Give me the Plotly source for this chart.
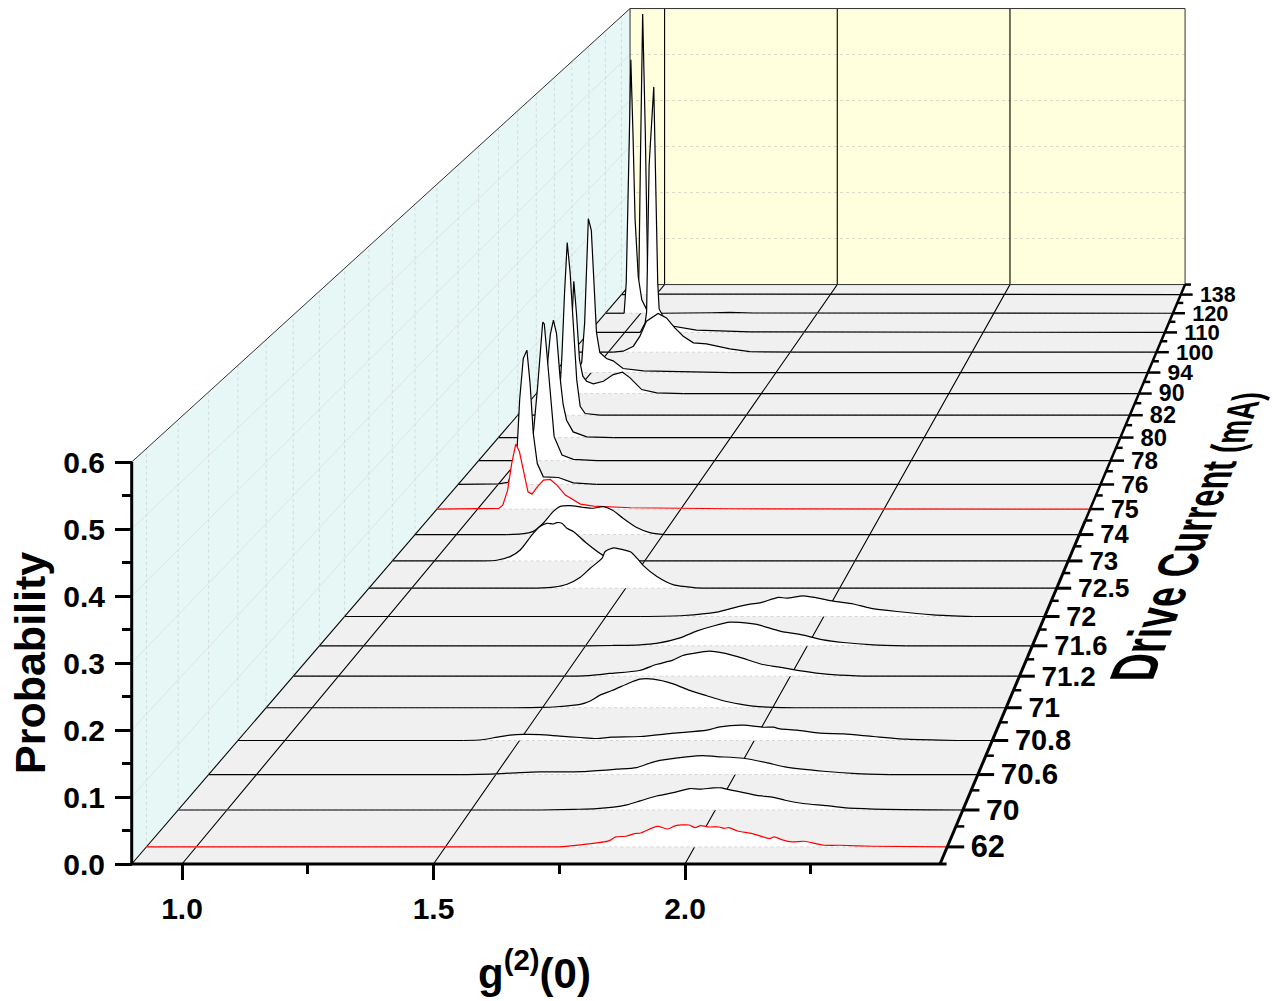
import plotly.graph_objects as go

W, H = 1273, 1001
FONT = "Liberation Sans"

currents = ["62","70","70.6","70.8","71","71.2","71.6","72","72.5","73","74","75","76","78","80","82","90","94","100","110","120","138"]

g_62 = [0.9,1.688,1.735,1.775,1.828,1.842,1.862,1.879,1.892,1.925,1.946,1.962,1.989,2.001,2.012,2.029,2.049,2.059,2.069,2.086,2.116,2.150,2.160,2.176,2.196,2.220,2.243,2.260,2.290,2.357,2.507]
p_62 = [0,0,.0005,.0035,.009,.015,.016,.020,.021,.031,.027,.032,.033,.029,.032,.030,.030,.028,.029,.024,.020,.0126,.015,.0106,.0075,.0085,.005,.0025,.0025,.001,0]
g_70 = [0.9,1.642,1.710,1.757,1.819,1.846,1.880,1.914,1.948,1.969,1.996,2.013,2.023,2.051,2.085,2.119,2.143,2.180,2.228,2.262,2.324,2.507]
p_70 = [0,0,.001,.002,.008,.014,.0215,.0266,.033,.032,.034,.034,.032,.028,.0225,.0195,.015,.010,.0067,.0036,.0015,0]
g_706 = [0.9,1.425,1.50,1.55,1.592,1.682,1.752,1.794,1.832,1.898,1.933,1.961,2.017,2.065,2.104,2.184,2.253,2.323,2.507]
p_706 = [0,0,.0012,.003,.0042,.0047,.0084,.011,.0204,.0277,.0298,.0282,.0256,.0188,.012,.0052,.0016,0,0]
g_708 = [0.9,1.38,1.42,1.453,1.48,1.507,1.5435,1.586,1.629,1.664,1.696,1.757,1.828,1.899,1.927,1.977,2.02,2.041,2.055,2.091,2.14,2.19,2.254,2.325,2.432,2.507]
p_708 = [0,0,.0012,.0055,.0085,.0098,.0095,.007,.0048,.0032,.0053,.0064,.0117,.0165,.0219,.0245,.0212,.0213,.0185,.0165,.0117,.0107,.0064,.0021,0,0]
g_71 = [0.9,1.436,1.495,1.531,1.582,1.605,1.625,1.651,1.69,1.712,1.741,1.784,1.82,1.857,1.893,1.929,1.958,2.002,2.05,2.507]
p_71 = [0,0,.0005,.0016,.0054,.0115,.0206,.028,.0408,.0467,.0467,.039,.0282,.0195,.0114,.006,.0027,.0005,0,0]
g_712 = [0.9,1.511,1.56,1.60,1.666,1.703,1.740,1.762,1.784,1.821,1.85,1.887,1.939,1.976,2.028,2.079,2.146,2.256,2.507]
p_712 = [0,0,.0015,.0045,.0094,.0194,.0266,.0343,.0377,.0416,.0388,.0316,.0194,.015,.0083,.0033,.0006,0,0]
g_716 = [0.9,1.50,1.56,1.623,1.660,1.713,1.750,1.792,1.825,1.848,1.886,1.938,1.991,2.036,2.081,2.148,2.223,2.507]
p_716 = [0,0,.0005,.0017,.004,.0135,.0248,.0344,.04,.0395,.0361,.0248,.018,.01,.0056,.0017,0,0]
g_72 = [0.9,1.5785,1.678,1.754,1.793,1.831,1.854,1.896,1.915,1.953,1.984,2.022,2.068,2.106,2.168,2.251,2.343,2.507]
p_72 = [0,0,.0017,.0075,.0149,.0212,.0235,.033,.0316,.0356,.0321,.0264,.0215,.0145,.0086,.0029,0,0]
g_725 = [0.9,1.293,1.332,1.363,1.394,1.417,1.445,1.452,1.472,1.495,1.511,1.530,1.542,1.573,1.612,1.659,1.690,2.507]
p_725 = [0,0,.0018,.007,.0193,.035,.0527,.0644,.0708,.0673,.0638,.0497,.0392,.0205,.0058,.0012,0,0]
g_73 = [0.9,1.117,1.148,1.18,1.204,1.232,1.251,1.267,1.283,1.291,1.303,1.315,1.331,1.362,1.402,1.434,2.507]
p_73 = [0,0,.0012,.0077,.0196,.0464,.0613,.0672,.066,.0684,.0672,.0583,.0523,.0315,.0095,0,0]
g_74 = [0.9,1.121,1.157,1.185,1.21,1.234,1.25,1.274,1.306,1.331,1.355,1.379,1.403,1.435,1.468,1.504,2.507]
p_74 = [0,0,.0012,.0054,.0206,.0417,.0508,.0526,.0496,.0478,.0508,.0436,.0296,.0133,.0036,0,0]
g_75 = [0.9,1.052,1.062,1.074,1.084,1.094,1.103,1.113,1.124,1.134,1.146,1.162,1.179,1.195,1.216,1.253,1.285,1.376,1.622,2.507]
p_75 = [0,.0012,.0074,.0351,.0844,.1201,.1059,.069,.032,.0277,.04,.0536,.0548,.0444,.0259,.0092,.0055,.0025,.0006,0]
g_76 = [0.9,1.0,1.025,1.038,1.048,1.054,1.063,1.072,1.08,1.088,1.098,1.113,1.151,1.188,1.246,2.507]
p_76 = [0,.0012,.004,.03,.0739,.16,.2366,.2523,.1897,.0958,.0394,.0144,.0131,.0031,0,0]
g_78 = [0.9,1.027,1.031,1.040,1.050,1.063,1.067,1.078,1.086,1.092,1.112,1.141,1.201,2.507]
p_78 = [0,0,.004,.0585,.1412,.2646,.2608,.1667,.0903,.0458,.0108,.0025,0,0]
g_80 = [0.9,1.011,1.020,1.026,1.034,1.042,1.05,1.059,1.067,1.076,1.093,1.128,1.197,2.507]
p_80 = [0,0,.02,.137,.2,.2277,.2018,.1177,.0647,.0336,.011,.0013,0,0]
g_82 = [0.9,1.007,1.016,1.023,1.03,1.0375,1.046,1.055,1.064,1.077,1.116,2.507]
p_82 = [0,0,.116,.241,.3403,.2825,.1813,.0696,.0177,.0033,0,0]
g_90 = [0.9,.979,.988,.994,1.0,1.007,1.015,1.024,1.034,1.052,1.079,1.105,1.13,1.15,1.181,1.221,1.292,2.507]
p_90 = [0,0,.02,.13,.2248,.1614,.0681,.0347,.0247,.0193,.0247,.038,.0427,.0314,.008,.0013,0,0]
g_94 = [0.9,.96,.974,.982,.992,1.0,1.005,1.014,1.023,1.041,1.059,1.086,1.141,1.267,1.375,2.507]
p_94 = [0,0,.0204,.102,.3128,.289,.2176,.0816,.0408,.0286,.0238,.0082,.0034,.0014,0,0]
g_100 = [0.9,1.014,1.041,1.069,1.087,1.105,1.137,1.16,1.183,1.206,1.234,1.27,1.334,1.389,1.518,2.507]
p_100 = [0,0,.0021,.0124,.033,.064,.0798,.0708,.0502,.033,.0193,.0172,.0069,.001,0,0]
g_110 = [0.9,1.043,1.057,1.061,1.068,1.081,1.087,1.092,1.096,1.12,1.2,1.35,2.507]
p_110 = [0,0,.02,.043,.349,.5143,.2796,.1058,.0492,.015,.005,.001,0]
g_120 = [0.9,.953,.959,.968,.972,.978,.984,.993,1.003,1.017,1.055,1.2,1.252,1.32,2.507]
p_120 = [0,0,.0648,.3843,.5389,.3843,.1998,.0776,.0287,.0074,0,.001,.002,.0005,0]
g_138 = [0.9,.945,.95,.955,.961,.9686,.975,.983,1.0,2.507]
p_138 = [0,0,.0377,.3117,.605,.3484,.06,.003,.001,0]

series_g = [g_62,g_70,g_706,g_708,g_71,g_712,g_716,g_72,g_725,g_73,g_74,g_75,g_76,g_78,g_80,g_82,g_90,g_94,g_100,g_110,g_120,g_138]
series_p = [p_62,p_70,p_706,p_708,p_71,p_712,p_716,p_72,p_725,p_73,p_74,p_75,p_76,p_78,p_80,p_82,p_90,p_94,p_100,p_110,p_120,p_138]
red_series = {"62", "75"}

x_ticks = [1.0, 1.5, 2.0]
x_minor = [1.25, 1.75, 2.25]
y_ticks = [0, .1, .2, .3, .4, .5, .6]
y_minor = [.05, .15, .25, .35, .45, .55]
G0, G1, P1 = 0.9, 2.507, 0.6

# perspective of the Origin 3D box: vanishing point, in front-plane data units
GV, PV, PERSP = 4.0616, 2.7597, 0.4564
N = len(currents)

def depth(i):
    return (i + 0.45) / N

def scale(z):
    return 1 / (1 + PERSP * z)

def proj(g, p, z):
    s = scale(z)
    return GV + s * (g - GV), PV + s * (p - PV)

def path(points):
    xs, ys = [], []
    for g, p, z in points:
        a, b = proj(g, p, z)
        xs.append(a); ys.append(b)
    return xs, ys

def segments(pairs):
    xs, ys = [], []
    for pts in pairs:
        a, b = path(pts)
        xs += a + [None]; ys += b + [None]
    return xs, ys

fig = go.Figure()

def line(xs, ys, color="black", width=1, dash="solid", shape="linear"):
    fig.add_trace(go.Scatter(x=xs, y=ys, mode="lines",
                             line=dict(color=color, width=width, dash=dash, shape=shape, **({"smoothing": 0.7} if shape == "spline" else {})),
                             hoverinfo="skip", showlegend=False))

def fill(xs, ys, color, shape="linear"):
    fig.add_trace(go.Scatter(x=xs, y=ys, mode="lines", line=dict(width=0, shape=shape, **({"smoothing": 0.7} if shape == "spline" else {})),
                             fill="toself", fillcolor=color, hoverinfo="skip", showlegend=False))

# walls and floor
fill(*path([(G0,0,0),(G0,P1,0),(G0,P1,1),(G0,0,1),(G0,0,0)]), "#E6F7F5")
fill(*path([(G0,0,1),(G0,P1,1),(G1,P1,1),(G1,0,1),(G0,0,1)]), "#FFFFDD")
fill(*path([(G0,0,0),(G0,0,1),(G1,0,1),(G1,0,0),(G0,0,0)]), "#F0F0F0")

# wall grids
line(*segments([[(G0,p,0),(G0,p,1)] for p in y_ticks[1:-1]]), "#DADFDF", 0.8)
line(*segments([[(G0,0,depth(i)),(G0,P1,depth(i))] for i in range(N)]), "#D2DADA", 1, "dot")
line(*segments([[(G0,p,1),(G1,p,1)] for p in y_ticks[1:-1]]), "#D8D8C4", 1, "dot")
# black grid on back wall and floor
line(*segments([[(g,0,0),(g,0,1),(g,P1,1)] for g in x_ticks]), "black", 1.1)
# box outline
line(*path([(G0,P1,0),(G0,P1,1),(G1,P1,1),(G1,0,1),(G0,0,1),(G0,P1,1)]), "#303030", 1)
line(*path([(G0,0,0),(G0,0,1)]), "black", 1.1)

# waterfall, back to front
for i in reversed(range(N)):
    z = depth(i)
    g, p = series_g[i], series_p[i]
    color = "#FF0000" if currents[i] in red_series else "black"
    nz = [k for k, v in enumerate(p) if v > 0]
    a, b = max(nz[0] - 1, 0), min(nz[-1] + 1, len(p) - 1)
    shape = "spline" if i <= 10 else "linear"
    mx, my = path([(g[k], p[k], z) for k in range(a, b + 1)])
    fill(mx, my, "white", shape)
    line(*path([(G0,0,z),(G1,0,z)]), "#D4D4D4", 1, "dot")
    if a > 0:
        line(*path([(G0,0,z),(g[a],0,z)]), color, 1.2)
    line(mx, my, color, 1.2, shape=shape)
    if b < len(p) - 1:
        line(*path([(g[b],0,z),(G1,0,z)]), color, 1.2)

# axis lines
line([G0 - 0.003, 2.52], [0, 0], "black", 3)
line([G0, G0], [0, P1], "black", 3)
line(*path([(G1,0,0),(G1,0,0.5)]), "black", 3)
line(*path([(G1,0,0.5),(G1,0,1)]), "black", 2.5)
# depth axis ticks
TICK = 0.034
line(*segments([[(G1,0,depth(i)),(G1+TICK,0,depth(i))] for i in range(N) if i < 11]), "black", 3)
line(*segments([[(G1,0,depth(i)),(G1+TICK,0,depth(i))] for i in range(N) if i >= 11]), "black", 2.5)
line(*segments([[(G1,0,k/N),(G1+TICK/2,0,k/N)] for k in range(1, N + 1)]), "black", 2.5)
# depth axis labels
lx, ly = path([(G1 + 0.047 + 0.008 * depth(i), -0.004, depth(i)) for i in range(N)])
fig.add_trace(go.Scatter(x=lx, y=ly, mode="text", text=currents, textposition="middle right",
                         textfont=dict(family=FONT, size=[31 * scale(depth(i)) for i in range(N)], weight=700, color="black"),
                         hoverinfo="skip", showlegend=False))

letters = "Drive Current (mA)"
sizes = [43.5 - 15.5 * k / (len(letters) - 1) for k in range(len(letters))]
drive_title = "".join(f'<span style="font-size:{s:.1f}px">{c}</span>' for c, s in zip(letters, sizes))

fig.update_layout(
    width=W, height=H, margin=dict(l=0, r=0, t=0, b=0), autosize=False,
    paper_bgcolor="white", plot_bgcolor="white", showlegend=False,
    xaxis=dict(domain=[0, 1], range=[1 - 182/503, 1 + (W - 182)/503], anchor="free", position=(H - 864)/H,
               showgrid=False, zeroline=False, showline=False, tickmode="array", tickvals=x_ticks,
               ticktext=[f"{v:.1f}" for v in x_ticks], ticks="outside", ticklen=15, tickwidth=3, tickcolor="black",
               ticklabelstandoff=3, tickfont=dict(family=FONT, size=30, weight=700, color="black"),
               minor=dict(tickmode="array", tickvals=x_minor, ticks="outside", ticklen=9, tickwidth=2.5, tickcolor="black")),
    yaxis=dict(domain=[0, 1], range=[-(H - 864)/670, 864/670], anchor="free", position=132/W,
               showgrid=False, zeroline=False, showline=False, tickmode="array", tickvals=y_ticks,
               ticktext=[f"{v:.1f}" for v in y_ticks], ticks="outside", ticklen=17, tickwidth=3, tickcolor="black",
               ticklabelstandoff=4, tickfont=dict(family=FONT, size=30, weight=700, color="black"),
               minor=dict(tickmode="array", tickvals=y_minor, ticks="outside", ticklen=10, tickwidth=2.5, tickcolor="black")),
    annotations=[
        dict(text="Probability", xref="paper", yref="paper", x=30/W, y=1 - 663/H, showarrow=False, textangle=-90,
             xanchor="center", yanchor="middle", font=dict(family=FONT, size=43, weight=700, color="black")),
        dict(text="g<sup>(2)</sup>(0)", xref="paper", yref="paper", x=534/W, y=1 - 970/H, showarrow=False,
             xanchor="center", yanchor="middle", font=dict(family=FONT, size=42, weight=700, color="black")),
        dict(text=drive_title, xref="paper", yref="paper", x=1186/W, y=1 - 537/H, showarrow=False, textangle=0,
             xanchor="center", yanchor="middle", font=dict(family=FONT, size=36, weight=700, color="black")),
    ],
)

# the depth-axis title lies in the sloped plane of the box: shear it along the axis direction
shear = """
document.body.style.margin='0';
(function(){
  var t=[].slice.call(document.querySelectorAll('.annotation-text')).filter(function(e){return e.textContent.indexOf('Drive')===0;})[0];
  if(!t){return;}
  var g=t.closest('.annotation-text-g');
  g.removeAttribute('transform');
  var r=t.getBoundingClientRect(), u=r.left+r.width/2, v=r.top+r.height/2;
  var th=69*Math.PI/180, kx=0.97, ky=1.45;
  g.setAttribute('transform','translate(1186,537) matrix('+(kx*Math.cos(th))+','+(-kx*Math.sin(th))+','+ky+',0,0,0) translate('+(-u)+','+(-v)+')');
})();
"""
fig.write_html("out.html", post_script=shear, config={"displayModeBar": False})
